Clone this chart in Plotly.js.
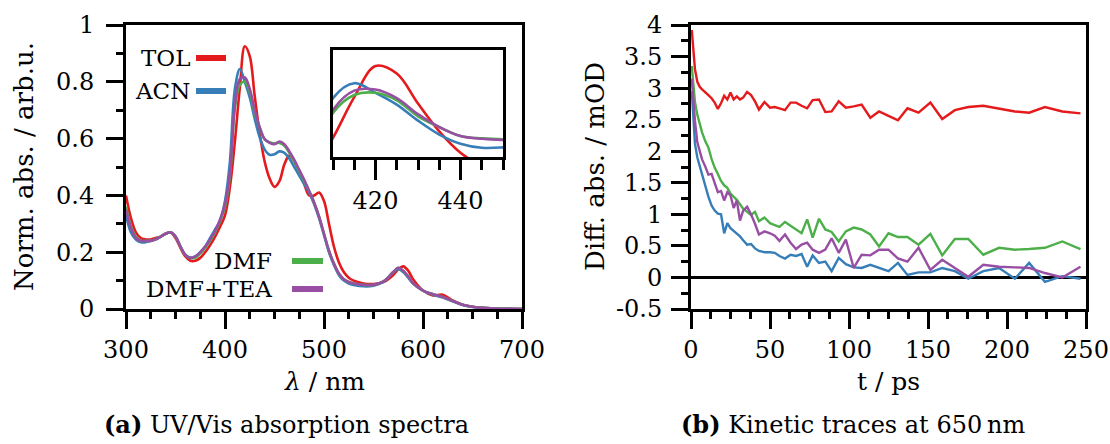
<!DOCTYPE html>
<html>
<head>
<meta charset="utf-8">
<script src="https://cdn.plot.ly/plotly-3.0.1.min.js"></script>
<style>html,body{margin:0;padding:0;background:#fff;}#chart{width:1110px;height:444px;}</style>
</head>
<body>
<div id="chart"></div>
<script>
// ---------- data ----------
const seriesNames = ['TOL', 'ACN', 'DMF', 'DMF+TEA'];

const wavelength = [300,305,310,315,320,325,330,335,340,345,350,355,360,365,370,375,380,385,390,395,400,405,410,415,420,425,430,435,440,445,450,455,460,465,470,475,480,485,490,495,500,505,510,515,520,525,530,540,550,560,570,575,580,585,590,600,610,620,630,640,650,660,680,700];

const absTOL = [0.40,0.32,0.27,0.25,0.245,0.245,0.25,0.255,0.265,0.27,
  0.25,0.215,0.185,0.17,0.17,0.18,0.20,0.225,0.255,0.29,
  0.33,0.43,0.59,0.78,0.925,0.89,0.75,0.62,0.52,0.46,
  0.43,0.45,0.51,0.54,0.52,0.48,0.44,0.40,0.40,0.41,
  0.38,0.30,0.22,0.165,0.13,0.11,0.10,
  0.09,0.088,0.095,0.12,
  0.14,0.15,0.135,0.105,
  0.065,0.048,0.05,0.03,0.015,0.008,0.004,
  0.001,0.0];

const absACN = [0.33,0.27,0.245,0.235,0.235,0.24,0.245,0.255,0.265,0.27,
  0.255,0.22,0.19,0.18,0.185,0.20,0.22,0.25,0.28,0.31,
  0.38,0.52,0.775,0.845,0.80,0.745,0.67,0.605,0.562,0.543,
  0.545,0.555,0.55,0.53,0.50,0.47,0.44,0.41,0.37,0.32,
  0.26,0.20,0.155,0.12,0.10,0.09,0.085,
  0.08,0.082,0.095,0.13,
  0.14,0.13,0.11,0.09,
  0.065,0.05,0.04,0.027,0.014,0.007,0.004,
  0.001,0.0];

const absDMF = [0.36,0.29,0.255,0.24,0.24,0.24,0.245,0.255,0.265,0.27,
  0.255,0.22,0.19,0.18,0.18,0.195,0.215,0.24,0.27,0.31,
  0.36,0.47,0.706,0.79,0.80,0.765,0.69,0.64,0.598,0.587,
  0.583,0.585,0.575,0.55,0.52,0.485,0.45,0.415,0.375,0.325,
  0.265,0.205,0.16,0.125,0.105,0.095,0.09,
  0.085,0.085,0.097,0.13,
  0.145,0.135,0.115,0.09,
  0.065,0.052,0.042,0.028,0.015,0.008,0.004,
  0.001,0.0];

const absDMFTEA = [0.35,0.285,0.25,0.24,0.24,0.24,0.245,0.255,0.265,0.27,
  0.255,0.22,0.19,0.18,0.185,0.20,0.22,0.245,0.275,0.315,
  0.37,0.48,0.72,0.81,0.815,0.775,0.70,0.64,0.598,0.585,
  0.58,0.59,0.58,0.555,0.525,0.49,0.455,0.415,0.375,0.325,
  0.265,0.205,0.16,0.125,0.105,0.095,0.09,
  0.085,0.085,0.097,0.13,
  0.145,0.135,0.115,0.09,
  0.065,0.052,0.042,0.028,0.015,0.008,0.004,
  0.001,0.0];

const timePs = [0.5,1.5,2.5,4,5.5,7,9,11,13,15,17,19,21,23,25,27,29,31,33,
  35.5,38,40.5,43,46.5,50,53,56,59.5,63,
  66.5,70,73.5,77,81,85,89,93.5,98,103,
  108,113.5,119,125,131,137,144,151.5,159,167,
  175.5,185,195,205,214,224,235,246.5];

const kinTOL = [3.92,3.6,3.30,3.10,3.02,2.98,2.94,2.89,2.84,2.77,2.67,2.76,2.88,2.82,2.93,2.82,2.87,2.82,2.85,
  2.94,2.89,2.79,2.66,2.78,2.69,2.70,2.68,2.65,2.77,
  2.77,2.72,2.68,2.81,2.82,2.62,2.63,2.79,2.69,2.71,
  2.74,2.53,2.63,2.56,2.49,2.68,2.61,2.77,2.51,2.65,
  2.70,2.72,2.68,2.63,2.61,2.70,2.63,2.60];

const kinACN = [2.95,2.45,2.12,1.90,1.76,1.66,1.45,1.28,1.14,1.06,1.01,1.00,0.70,0.86,0.78,0.74,0.70,0.65,0.59,
  0.52,0.53,0.46,0.42,0.40,0.40,0.39,0.34,0.30,0.36,
  0.34,0.37,0.17,0.35,0.23,0.25,0.10,0.31,0.21,0.16,
  0.15,0.20,0.15,0.10,0.23,0.04,0.08,0.08,0.15,0.10,
  -0.02,0.10,0.15,-0.02,0.23,-0.07,0.02,-0.02];

const kinDMF = [3.35,3.05,2.78,2.58,2.43,2.30,2.16,2.06,1.88,1.74,1.64,1.53,1.46,1.42,1.33,1.28,1.23,1.16,1.09,
  1.04,0.99,1.04,0.89,0.95,0.86,0.83,0.80,0.88,0.82,
  0.76,0.70,0.92,0.63,0.93,0.76,0.72,0.57,0.73,0.79,
  0.76,0.68,0.49,0.70,0.64,0.64,0.52,0.69,0.35,0.61,
  0.61,0.36,0.47,0.44,0.45,0.47,0.57,0.45];

const kinDMFTEA = [3.15,2.80,2.48,2.14,1.99,1.87,1.76,1.63,1.64,1.48,1.35,1.37,1.22,1.35,1.30,1.10,1.22,0.90,1.06,
  1.12,1.00,0.85,0.68,0.73,0.70,0.66,0.58,0.68,0.55,
  0.45,0.52,0.55,0.44,0.39,0.44,0.62,0.39,0.60,0.15,
  0.36,0.35,0.44,0.44,0.30,0.25,0.47,0.12,0.28,0.15,
  0.01,0.20,0.17,0.16,0.15,0.07,0.00,0.17];

const kinYTickVals = [-0.5,0,0.5,1,1.5,2,2.5,3,3.5,4];
const kinYTickText = ['-0.5','0','0.5','1','1.5','2','2.5','3','3.5','4'];
const insetTickVals = [420,440];

const colors = ['#e41a1c','#377eb8','#4daf4a','#984ea3'];

// ---------- layout helpers ----------
const W = 1110, H = 444;
const px = v => v / W;
const py = v => 1 - v / H;
const FONT = 'DejaVu Serif';
const TICK = 24, TITLE = 25, CAP = 24, LEG = 23;

const spectra = [absTOL, absACN, absDMF, absDMFTEA];
const kinetics = [kinTOL, kinACN, kinDMF, kinDMFTEA];

const traces = [];
spectra.forEach((s, i) => {
  traces.push({x: wavelength, y: s, type: 'scatter', mode: 'lines', xaxis: 'x', yaxis: 'y',
    line: {color: colors[i], width: 2.6, shape: 'spline', smoothing: 1}, name: seriesNames[i], showlegend: false});
});
spectra.forEach((s, i) => {
  traces.push({x: wavelength, y: s, type: 'scatter', mode: 'lines', xaxis: 'x3', yaxis: 'y3',
    line: {color: colors[i], width: 2.6, shape: 'spline', smoothing: 1}, name: seriesNames[i], showlegend: false});
});
kinetics.forEach((s, i) => {
  traces.push({x: timePs, y: s, type: 'scatter', mode: 'lines', xaxis: 'x2', yaxis: 'y2',
    line: {color: colors[i], width: 2.4}, name: seriesNames[i], showlegend: false});
});

const axBase = {
  showgrid: false, zeroline: false, showline: true, linecolor: '#000', linewidth: 3, mirror: true,
  ticks: 'outside', ticklen: 17, tickwidth: 3, tickcolor: '#000',
  tickfont: {family: FONT, size: TICK, color: '#000'}, fixedrange: true
};
const yDom = [py(309), py(25)];

const layout = {
  width: W, height: H, margin: {l: 0, r: 0, t: 0, b: 0},
  paper_bgcolor: '#fff', plot_bgcolor: '#fff', showlegend: false,
  xaxis: Object.assign({}, axBase, {domain: [px(126), px(522)], range: [300, 700], dtick: 100, tick0: 300, anchor: 'y',
    ticklabelstandoff: 0,
    minor: {dtick: 25, tick0: 300, ticks: 'outside', ticklen: 7, tickwidth: 3, tickcolor: '#000'}}),
  yaxis: Object.assign({}, axBase, {domain: yDom, range: [0, 1], dtick: 0.2, tick0: 0, anchor: 'x',
    ticklabelstandoff: 7,
    minor: {dtick: 0.1, tick0: 0, ticks: 'outside', ticklen: 7, tickwidth: 3, tickcolor: '#000'}}),
  xaxis2: Object.assign({}, axBase, {domain: [px(691), px(1086)], range: [0, 250], dtick: 50, tick0: 0, anchor: 'y2',
    ticklabelstandoff: 0,
    minor: {dtick: 12.5, tick0: 0, ticks: 'outside', ticklen: 7, tickwidth: 3, tickcolor: '#000'}}),
  yaxis2: Object.assign({}, axBase, {domain: yDom, range: [-0.5, 4], tickmode: 'array', tickvals: kinYTickVals, ticktext: kinYTickText, anchor: 'x2',
    ticklabelstandoff: 4,
    zeroline: true, zerolinecolor: '#000', zerolinewidth: 3,
    minor: {dtick: 0.25, tick0: 0, ticks: 'outside', ticklen: 7, tickwidth: 3, tickcolor: '#000'}}),
  xaxis3: Object.assign({}, axBase, {domain: [px(333), px(503)], range: [410, 450], tickmode: 'array', tickvals: insetTickVals, anchor: 'y3',
    ticklen: 20, minor: {dtick: 5, tick0: 410, ticks: 'outside', ticklen: 10, tickwidth: 3, tickcolor: '#000'}}),
  yaxis3: Object.assign({}, axBase, {domain: [py(157), py(50)], range: [0.5, 1.0], anchor: 'x3', ticks: '', showticklabels: false}),
  annotations: [],
  shapes: []
};

function ann(text, x, y, opts) {
  layout.annotations.push(Object.assign({text: text, x: px(x), y: py(y), xref: 'paper', yref: 'paper', borderpad: 0,
    showarrow: false, font: {family: FONT, size: TITLE, color: '#000'}, xanchor: 'center', yanchor: 'middle'}, opts || {}));
}
// axis titles
ann('Norm. abs. / arb.u.', 24, 167, {textangle: -90, font: {family: FONT, size: 26, color: '#000'}});
ann('<i>λ</i> / nm', 324, 381);
ann('Diff. abs. / mOD', 595, 167, {textangle: -90, font: {family: FONT, size: 26, color: '#000'}});
ann('t / ps', 888, 381);
// captions
ann('<b>(a)</b> UV/Vis absorption spectra', 103, 424, {xanchor: 'left', font: {family: FONT, size: CAP, color: '#000'}});
ann('<b>(b)</b> Kinetic traces at 650\u2009nm', 680, 424, {xanchor: 'left', font: {family: FONT, size: CAP, color: '#000'}});

// legend entries: text on left, line sample on right
const legendPos = [
  {tx: 191, y: 58, x0: 196, x1: 226},
  {tx: 191, y: 91, x0: 196, x1: 226},
  {tx: 273, y: 261, x0: 292, x1: 323},
  {tx: 273, y: 289, x0: 292, x1: 323}
];
seriesNames.forEach((n, i) => {
  const p = legendPos[i];
  ann(n, p.tx, p.y, {xanchor: 'right', font: {family: FONT, size: LEG, color: '#000'}});
  layout.shapes.push({type: 'line', xref: 'paper', yref: 'paper', x0: px(p.x0), x1: px(p.x1), y0: py(p.y), y1: py(p.y),
    line: {color: colors[i], width: 6}});
});

Plotly.newPlot('chart', traces, layout, {staticPlot: true, displayModeBar: false});
</script>
</body>
</html>
